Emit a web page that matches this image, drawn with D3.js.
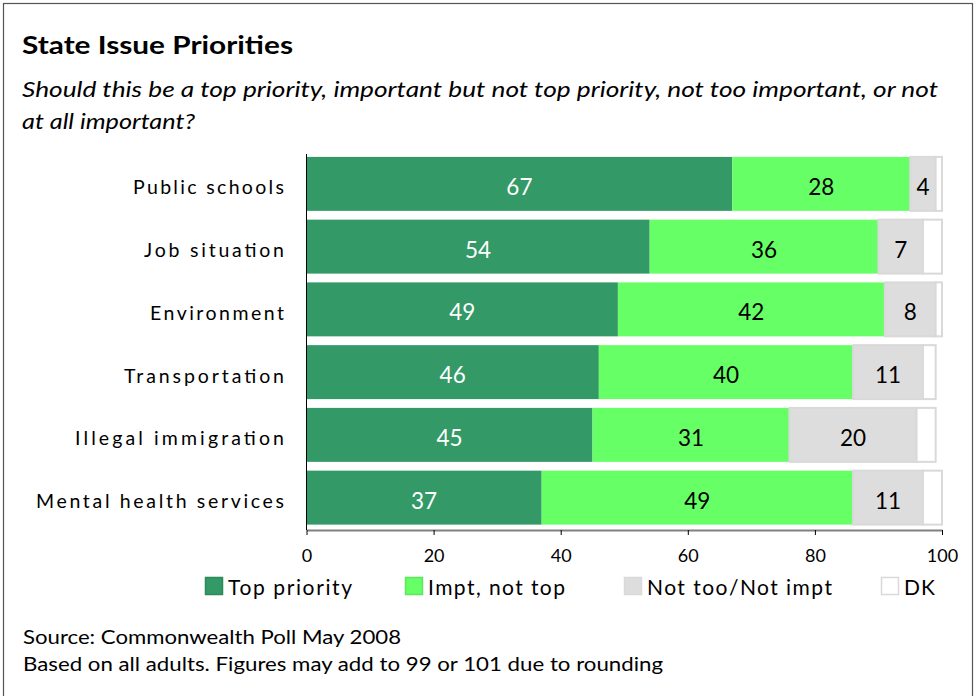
<!DOCTYPE html>
<html>
<head>
<meta charset="utf-8">
<script src="https://cdn.jsdelivr.net/npm/d3@7"></script>
<style>
  html, body { margin: 0; padding: 0; background: #fff; }
  svg { display: block; }
  text { font-family: Lato, "Open Sans", sans-serif; }
</style>
</head>
<body>
<script>
// ---- data ----
const categories = ["Public schools", "Job situation", "Environment", "Transportation", "Illegal immigration", "Mental health services"];
const topPriority = [67, 54, 49, 46, 45, 37];
const imptNotTop = [28, 36, 42, 40, 31, 49];
const notTooNotImpt = [4, 7, 8, 11, 20, 11];
const dontKnow = [1, 3, 1, 2, 3, 3];
const seriesNames = ["Top priority", "Impt, not top", "Not too/Not impt", "DK"];
const xTickValues = [0, 20, 40, 60, 80, 100];
const titleText = "State Issue Priorities";
const subtitleLines = ["Should this be a top priority, important but not top priority, not too important, or not", "at all important?"];
const sourceLines = ["Source: Commonwealth Poll May 2008", "Based on all adults. Figures may add to 99 or 101 due to rounding"];

// ---- styling ----
const W = 977, H = 696;
const colors = ["#339966", "#66FF66", "#DDDDDD", "#FFFFFF"];
const labelColors = ["#FFFFFF", "#000000", "#000000", null];
const catWidths = [151, 140, 134, 160, 209, 248];

const svg = d3.select("body").append("svg").attr("width", W).attr("height", H);

// outer border
svg.append("rect").attr("x", 3.5).attr("y", 3.5).attr("width", 969).attr("height", H + 10)
  .attr("fill", "#fff").attr("stroke", "#555").attr("stroke-width", 1.2);

// title
svg.append("text").attr("x", 22).attr("y", 54).attr("font-size", 25.5).attr("font-weight", "bold")
  .attr("textLength", 271).attr("lengthAdjust", "spacingAndGlyphs").text(titleText);
svg.selectAll("text.sub").data(subtitleLines).join("text").attr("class", "sub")
  .attr("x", 22).attr("y", (d, i) => 97 + i * 32).attr("font-size", 22).attr("font-style", "italic")
  .attr("textLength", (d, i) => i === 0 ? 916 : 173).attr("lengthAdjust", "spacingAndGlyphs")
  .text(d => d);

// scales
const x = d3.scaleLinear().domain([0, 100]).range([306.5, 942]);
const y = d3.scaleBand().domain(categories).range([152.5, 529]).paddingInner(0.14).paddingOuter(0.07);

// stack
const rows = categories.map((c, i) => ({ cat: c, s0: topPriority[i], s1: imptNotTop[i], s2: notTooNotImpt[i], s3: dontKnow[i] }));
const stack = d3.stack().keys(["s0", "s1", "s2", "s3"]);
const stacked = stack(rows);

const g = svg.append("g");
stacked.forEach((layer, li) => {
  const lg = g.append("g");
  lg.selectAll("rect").data(layer).join("rect")
    .attr("x", d => x(d[0]))
    .attr("y", d => y(d.data.cat))
    .attr("width", d => x(d[1]) - x(d[0]))
    .attr("height", y.bandwidth())
    .attr("fill", colors[li])
    .attr("stroke", li >= 2 ? "#D9D9D9" : "none")
    .attr("stroke-width", li >= 2 ? 2 : 0);
  if (labelColors[li]) {
    lg.selectAll("text").data(layer).join("text")
      .attr("x", d => (x(d[0]) + x(d[1])) / 2)
      .attr("y", d => y(d.data.cat) + y.bandwidth() / 2 + 11)
      .attr("text-anchor", "middle")
      .attr("font-size", 22.5)
      .attr("fill", labelColors[li])
      .text(d => d[1] - d[0]);
  }
});

// category labels
svg.selectAll("text.cat").data(categories).join("text").attr("class", "cat")
  .attr("x", (d, i) => 284 - catWidths[i])
  .attr("y", d => y(d) + y.bandwidth() / 2 + 10.5)
  .attr("font-size", 19.5)
  .attr("textLength", (d, i) => catWidths[i]).attr("lengthAdjust", "spacing")
  .text(d => d);

// x axis
const axisY = 530;
const xAxis = d3.axisBottom(x).tickValues(xTickValues).tickSize(5).tickSizeOuter(0);
const ax = svg.append("g").attr("transform", `translate(0,${axisY})`).call(xAxis);
ax.select(".domain").attr("stroke", "#808080").attr("stroke-width", 2);
ax.selectAll(".tick line").attr("stroke", "#000").attr("stroke-width", 1);
ax.selectAll(".tick text").attr("y", 32).attr("dy", 0).attr("font-size", 18).attr("fill", "#000")
  .attr("font-family", "Lato, sans-serif");

// y axis line
svg.append("line").attr("x1", 306.5).attr("x2", 306.5).attr("y1", 154).attr("y2", axisY)
  .attr("stroke", "#000").attr("stroke-width", 1);

// legend
const legendSwatchX = [205, 405, 624, 881];
const legendTextW = [124, 137, 185, 31];
const lg = svg.append("g");
seriesNames.forEach((name, i) => {
  lg.append("rect").attr("x", legendSwatchX[i] + 0.5).attr("y", 577.5).attr("width", 17).attr("height", 17)
    .attr("fill", colors[i]).attr("stroke", i === 0 ? "#2d8a5a" : (i === 1 ? "#5ee65e" : "#D9D9D9")).attr("stroke-width", 1.5);
  lg.append("text").attr("x", legendSwatchX[i] + 23).attr("y", 595).attr("font-size", 21)
    .attr("textLength", legendTextW[i]).attr("lengthAdjust", "spacing").text(name);
});

// source
svg.selectAll("text.src").data(sourceLines).join("text").attr("class", "src")
  .attr("x", 23).attr("y", (d, i) => 644 + i * 27).attr("font-size", 19.5)
  .attr("textLength", (d, i) => i === 0 ? 378 : 640).attr("lengthAdjust", "spacingAndGlyphs")
  .text(d => d);
</script>
</body>
</html>
